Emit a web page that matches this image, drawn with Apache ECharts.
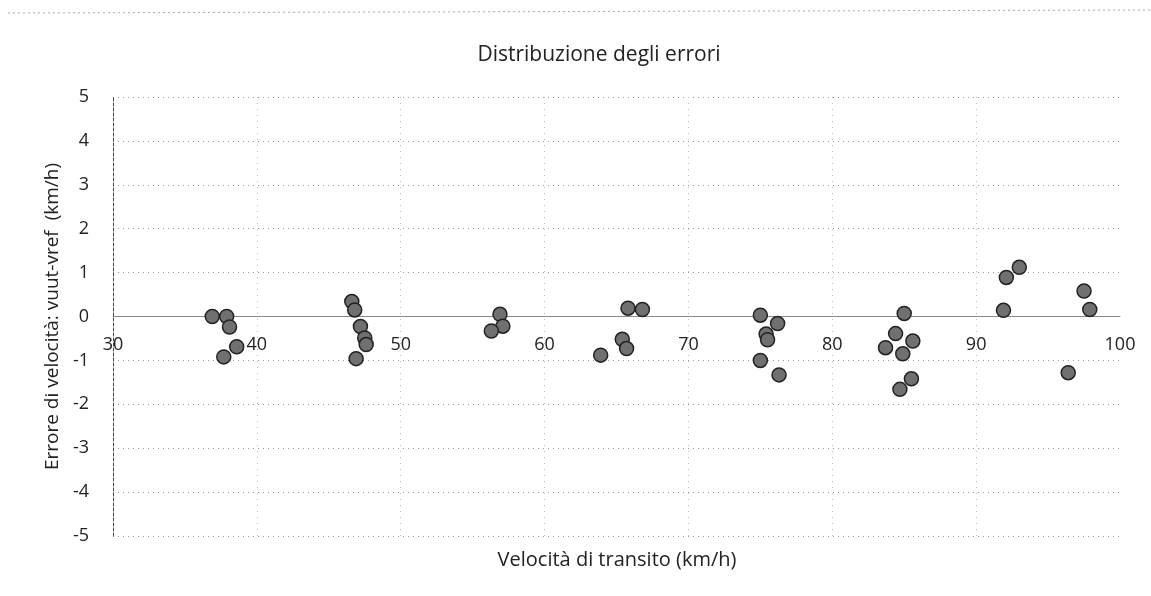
<!DOCTYPE html>
<html>
<head>
<meta charset="utf-8">
<script src="https://cdn.jsdelivr.net/npm/echarts@6/dist/echarts.min.js"></script>
<style>html,body{margin:0;padding:0;background:#fff;}#c{width:1151px;height:596px;}</style>
</head>
<body>
<div id="c"></div>
<script>
var speedValues = [36.9, 37.9, 38.1, 38.6, 37.7,
  46.6, 46.8, 47.2, 47.5, 47.6, 46.9,
  56.9, 57.1, 56.3,
  65.8, 66.8, 65.4, 65.7, 63.9,
  75.0, 76.2, 75.4, 75.5, 75.0, 76.3,
  85.0, 84.4, 85.6, 83.7, 84.9, 85.5, 84.7,
  91.9, 92.1, 93.0, 97.5, 97.9, 96.4];
var errorValues = [0.00, 0.00, -0.24, -0.69, -0.92,
  0.34, 0.15, -0.23, -0.49, -0.64, -0.96,
  0.05, -0.22, -0.33,
  0.19, 0.16, -0.52, -0.73, -0.88,
  0.03, -0.16, -0.40, -0.53, -1.00, -1.33,
  0.07, -0.39, -0.56, -0.71, -0.85, -1.42, -1.66,
  0.14, 0.89, 1.12, 0.58, 0.16, -1.28];
var xTicks = [30, 40, 50, 60, 70, 80, 90, 100];
var yTicks = [-5, -4, -3, -2, -1, 0, 1, 2, 3, 4, 5];
var titleText = 'Distribuzione degli errori';
var xName = 'Velocità di transito (km/h)';
var yName = 'Errore di velocità: vuut-vref  (km/h)';

var pts = speedValues.map(function (v, i) { return [v, errorValues[i]]; });
var tickPts = xTicks.map(function (t) { return [t, 0]; });
var font = '"Open Sans", "Noto Sans", sans-serif';
var vColors = xTicks.map(function (t, i) { return (i === 0 || i === xTicks.length - 1) ? 'rgba(0,0,0,0)' : '#bbbbbb'; });

var chart = echarts.init(document.getElementById('c'));
chart.setOption({
  animation: false,
  backgroundColor: '#ffffff',
  title: [
    { text: titleText, left: 594, top: 40, textAlign: 'center',
      textStyle: { fontFamily: font, fontSize: 21, fontWeight: 'normal', color: '#222' } },
    { text: xName, left: 612, top: 545, textAlign: 'center',
      textStyle: { fontFamily: font, fontSize: 20, fontWeight: 'normal', color: '#222' } }
  ],
  graphic: [
    { type: 'line', shape: { x1: 8, y1: 13, x2: 1151, y2: 10 },
      style: { stroke: '#aaaaaa', lineWidth: 1, lineDash: [2, 3] } }
  ],
  grid: { left: 113, right: 31, top: 97, bottom: 60 },
  xAxis: {
    type: 'value', min: xTicks[0], max: xTicks[xTicks.length - 1], interval: 10,
    axisLine: { show: true, onZero: true, lineStyle: { color: '#8a8a8a', width: 1 } },
    axisTick: { show: false },
    axisLabel: { show: false },
    splitLine: { show: true, lineStyle: { color: vColors, type: [1, 5], width: 1 } }
  },
  yAxis: {
    type: 'value', min: yTicks[0], max: yTicks[yTicks.length - 1], interval: 1,
    name: yName, nameLocation: 'middle', nameGap: 50, nameRotate: 90,
    nameTextStyle: { fontFamily: font, fontSize: 19, color: '#222' },
    axisLine: { show: true, onZero: false, lineStyle: { color: '#444', type: [3, 2], width: 1 } },
    axisTick: { show: false },
    axisLabel: { margin: 24, fontFamily: font, fontSize: 18, color: '#222' },
    splitLine: { show: true, lineStyle: { color: '#999999', type: [1, 4], width: 1 } }
  },
  series: [{
    type: 'scatter',
    data: tickPts,
    symbolSize: 0,
    silent: true,
    itemStyle: { opacity: 1, color: '#222' },
    label: { show: true, position: 'bottom', distance: 19, opacity: 1,
      fontFamily: font, fontSize: 18, color: '#222',
      formatter: function (p) { return String(p.value[0]); } }
  }, {
    type: 'scatter',
    data: pts,
    symbol: 'circle',
    symbolSize: 14,
    itemStyle: { color: '#707070', borderColor: '#222', borderWidth: 1.5, opacity: 1 }
  }]
});
</script>
</body>
</html>
